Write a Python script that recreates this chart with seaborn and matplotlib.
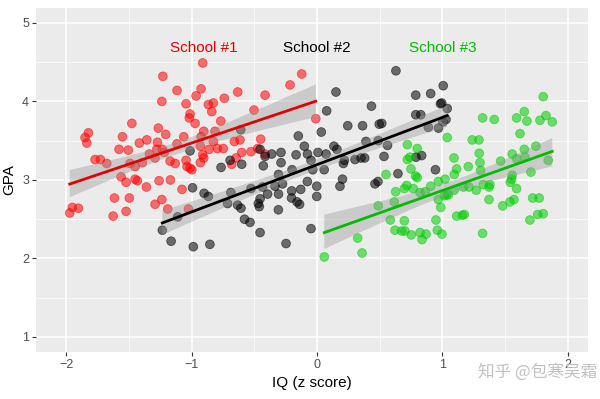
import numpy as np
import pandas as pd
import matplotlib
matplotlib.use("Agg")
import matplotlib.pyplot as plt
import seaborn as sns
from matplotlib.collections import PolyCollection


# values (IQ z score, GPA)
school1_iq = [-0.911, -1.229, -1.116, -0.924, -1.237, -0.964, -1.044, -0.739, -0.632, -0.866,
              -0.826, -0.839, -1.012, -1.018, -0.972, -0.767, -0.502, -1.476, -1.265, -1.206,
              -1.062, -0.903, -0.813, -1.822, -1.849, -1.835, -1.551, -1.357, -1.416, -1.272,
              -1.116, -0.924, -0.826, -0.930, -0.659, -0.614, -1.578, -1.504, -1.277, -1.233,
              -1.336, -1.291, -1.217, -0.861, -0.794, -0.747, -0.526, -0.911, -0.903, -1.769,
              -1.727, -1.676, -1.490, -1.450, -1.392, -1.171, -1.131, -1.044, -1.036, -1.012,
              -0.998, -0.930, -0.680, -0.645, -0.600, -1.562, -1.522, -1.450, -1.432, -1.360,
              -1.259, -1.169, -1.076, -1.615, -1.496, -1.291, -1.237, -1.190, -1.025, -1.950,
              -1.902, -1.971, -1.625, -1.522, -0.122, -0.215, -0.414, -0.010, -0.449, -0.473,
              -0.414]
school1_gpa = [4.49, 4.32, 4.14, 4.16, 4.00, 4.07, 3.97, 4.04, 4.12, 3.96,
               3.98, 3.87, 3.84, 3.79, 3.72, 3.75, 3.89, 3.72, 3.66, 3.58,
               3.55, 3.62, 3.62, 3.60, 3.54, 3.47, 3.55, 3.51, 3.47, 3.48,
               3.46, 3.55, 3.49, 3.43, 3.49, 3.51, 3.39, 3.38, 3.39, 3.39,
               3.33, 3.28, 3.35, 3.39, 3.40, 3.40, 3.36, 3.32, 3.28, 3.26,
               3.26, 3.21, 3.21, 3.17, 3.22, 3.24, 3.21, 3.25, 3.17, 3.15,
               3.13, 3.22, 3.20, 3.28, 3.35, 3.04, 2.97, 3.01, 2.99, 2.91,
               2.99, 3.00, 2.88, 2.77, 2.77, 2.69, 2.75, 2.63, 2.63, 2.65,
               2.64, 2.58, 2.54, 2.60, 4.35, 4.21, 4.08, 3.78, 3.52, 3.40,
               3.33]

school2_iq = [-1.012, -0.693, -0.765, -0.600, -0.608, -0.992, -0.900, -0.866, -0.687, -0.713,
              -0.633, -0.606, -0.526, -0.578, -0.534, -1.110, -1.233, -1.163, -0.986, -0.854,
              0.077, 0.034, -0.149, -0.101, -0.454, -0.414, -0.361, -0.287, -0.287, -0.428,
              -0.167, -0.076, -0.048, 0.008, 0.072, -0.199, -0.034, 0.057, -0.307, -0.275,
              -0.335, -0.077, -0.002, -0.434, -0.394, -0.454, -0.468, -0.460, -0.307, -0.308,
              -0.202, -0.130, -0.203, -0.159, -0.139, -0.002, -0.454, -0.048, -0.247, 0.629,
              0.151, 1.006, 0.787, 0.906, 0.984, 0.994, 1.038, 0.434, 0.787, 0.827,
              1.028, 0.887, 0.968, 1.004, 0.516, 0.496, 0.363, 0.245, 0.390, 0.488,
              0.562, 0.135, 0.159, 0.218, 0.210, 0.303, 0.351, 0.380, 0.534, 0.789,
              0.834, 0.645, 0.944, 0.203, 0.486, 0.462, 0.183]
school2_gpa = [3.37, 3.25, 3.16, 3.20, 3.64, 2.90, 2.83, 2.79, 2.84, 2.70,
               2.68, 2.64, 2.89, 2.50, 2.46, 2.53, 2.36, 2.22, 2.15, 2.18,
               3.88, 3.61, 3.56, 3.43, 3.39, 3.30, 3.33, 3.35, 3.22, 3.18,
               3.32, 3.33, 3.25, 3.35, 3.33, 3.13, 3.13, 3.13, 3.07, 2.95,
               2.92, 2.98, 2.92, 2.91, 2.82, 2.76, 2.70, 2.66, 2.82, 2.62,
               2.86, 2.88, 2.77, 2.72, 2.69, 2.79, 2.33, 2.38, 2.19, 4.39,
               4.12, 4.20, 4.08, 4.10, 3.97, 3.98, 3.91, 3.94, 3.83, 3.83,
               3.77, 3.67, 3.66, 3.74, 3.72, 3.71, 3.69, 3.69, 3.49, 3.50,
               3.44, 3.43, 3.39, 3.25, 3.21, 3.26, 3.28, 3.28, 3.30, 3.29,
               3.31, 3.08, 3.13, 3.01, 2.98, 2.95, 2.92]

school3_iq = [1.803, 1.320, 1.413, 1.591, 1.652, 1.673, 1.777, 1.825, 1.875, 1.618,
              1.038, 1.237, 1.291, 0.720, 0.799, 0.720, 0.741, 1.293, 1.092, 1.299,
              1.556, 1.652, 1.745, 1.591, 1.657, 1.464, 0.749, 1.113, 1.206, 1.094,
              1.304, 0.786, 0.799, 0.550, 1.020, 0.967, 0.906, 0.715, 0.696, 0.767,
              0.627, 0.821, 0.863, 1.094, 1.166, 1.211, 1.269, 1.325, 1.378, 1.371,
              1.556, 1.551, 1.540, 1.591, 1.705, 1.843, 1.014, 1.033, 1.046, 0.967,
              0.986, 1.371, 1.480, 1.538, 1.570, 1.719, 1.771, 0.488, 0.616, 1.113,
              1.158, 1.174, 1.759, 1.803, 1.697, 0.584, 0.948, 0.622, 0.675, 0.701,
              0.959, 0.751, 0.821, 0.869, 0.996, 0.837, 1.320, 0.324, 0.359, 0.058,
              0.696]
school3_gpa = [4.06, 3.79, 3.77, 3.79, 3.87, 3.75, 3.76, 3.82, 3.74, 3.59,
               3.54, 3.51, 3.51, 3.45, 3.40, 3.26, 3.29, 3.34, 3.28, 3.22,
               3.33, 3.39, 3.43, 3.27, 3.29, 3.24, 3.14, 3.14, 3.17, 3.07,
               3.12, 3.05, 3.03, 3.07, 3.01, 2.98, 2.92, 2.93, 2.89, 2.89,
               2.85, 2.84, 2.85, 2.87, 2.91, 2.91, 2.87, 2.94, 2.94, 2.91,
               3.06, 3.01, 2.97, 2.89, 3.10, 3.25, 2.80, 2.81, 2.81, 2.75,
               2.65, 2.75, 2.67, 2.72, 2.75, 2.77, 2.77, 2.67, 2.72, 2.54,
               2.55, 2.56, 2.56, 2.57, 2.49, 2.49, 2.49, 2.36, 2.35, 2.35,
               2.36, 2.30, 2.33, 2.31, 2.31, 2.24, 2.32, 2.26, 2.07, 2.02,
               2.48]

school_names = ["School #1", "School #2", "School #3"]
label_x = [-0.9, 0.0, 1.0]
label_y = 4.68
point_colors = ["#FF0000", "#000000", "#00CD00"]
line_colors = ["#E00000", "#000000", "#00BB00"]

df = pd.concat([
    pd.DataFrame({"iq": school1_iq, "gpa": school1_gpa, "school": school_names[0]}),
    pd.DataFrame({"iq": school2_iq, "gpa": school2_gpa, "school": school_names[1]}),
    pd.DataFrame({"iq": school3_iq, "gpa": school3_gpa, "school": school_names[2]}),
], ignore_index=True)

plt.rcParams["font.family"] = ["Liberation Sans", "DejaVu Sans"]

fig = plt.figure(figsize=(6.0, 3.99), dpi=100)
ax = fig.add_axes([0.06, 0.118, 0.92, 0.862])
ax.set_facecolor("#EBEBEB")

# ggplot-like grid
for v in [-2, -1, 0, 1, 2]:
    ax.axvline(v, color="white", lw=1.1, zorder=0)
for v in [-1.5, -0.5, 0.5, 1.5]:
    ax.axvline(v, color="white", lw=0.5, zorder=0)
for v in [1, 2, 3, 4, 5]:
    ax.axhline(v, color="white", lw=1.1, zorder=0)
for v in [1.5, 2.5, 3.5, 4.5]:
    ax.axhline(v, color="white", lw=0.5, zorder=0)

sns.scatterplot(data=df, x="iq", y="gpa", hue="school", palette=point_colors,
                s=40, alpha=0.55, edgecolor="face", linewidth=0.6,
                ax=ax, legend=False, zorder=2)

for name, lc in zip(school_names, line_colors):
    n_before = len(ax.collections)
    sns.regplot(data=df[df["school"] == name], x="iq", y="gpa", scatter=False,
                ci=95, seed=1, n_boot=2000, truncate=True, ax=ax,
                line_kws={"color": lc, "lw": 2.0, "zorder": 4})
    for coll in ax.collections[n_before:]:
        if isinstance(coll, PolyCollection):
            coll.set_facecolor("#999999")
            coll.set_alpha(0.4)
            coll.set_edgecolor("none")
            coll.set_zorder(3)

for name, tx, c in zip(school_names, label_x, line_colors):
    ax.text(tx, label_y, name, color=c, ha="center", va="center", fontsize=11)

ax.set_xlim(-2.24, 2.16)
ax.set_ylim(0.81, 5.19)
ax.set_xticks([-2, -1, 0, 1, 2])
ax.set_yticks([1, 2, 3, 4, 5])
ax.tick_params(length=3, width=0.8, color="#333333", labelcolor="#4D4D4D",
               labelsize=9, pad=2)
for sp in ax.spines.values():
    sp.set_visible(False)
ax.grid(False)
ax.set_xlabel("IQ (z score)", fontsize=11, color="black", labelpad=4)
ax.set_ylabel("GPA", fontsize=11, color="black", labelpad=4)

# site watermark in the lower right corner
fig.text(0.995, 0.068, "知乎 @包寒吴霜", ha="right", va="center", fontsize=12,
         color="#BBBBBB", alpha=0.9, family=["Noto Sans CJK SC", "DejaVu Sans"])

fig.savefig("out.png", dpi=100)
